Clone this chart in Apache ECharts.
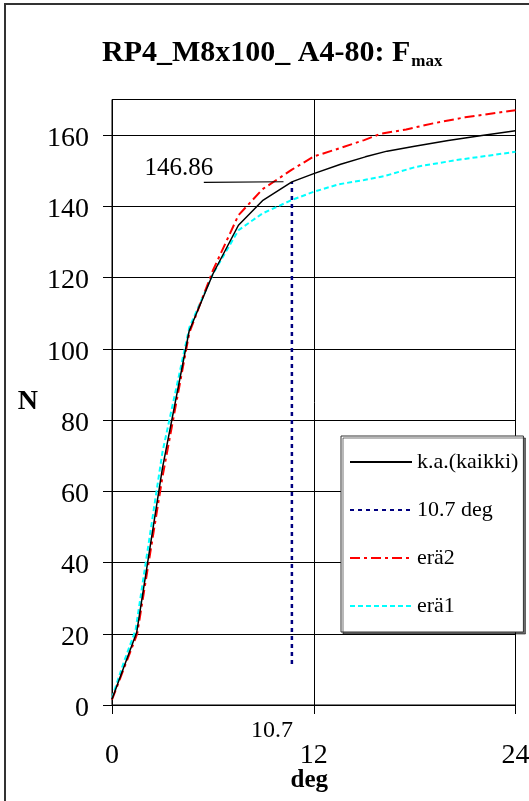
<!DOCTYPE html>
<html>
<head>
<meta charset="utf-8">
<title>RP4_M8x100_ A4-80: Fmax</title>
<script src="https://cdn.jsdelivr.net/npm/echarts@6/dist/echarts.min.js"></script>
<style>
  html, body { margin: 0; padding: 0; background: #fff; }
  #chart { width: 529px; height: 801px; }
</style>
</head>
<body>
<div id="chart"></div>
<script>
// Torque angle (deg) vs. force (N) for RP4_M8x100_ A4-80 screws
const degKa  = [0, 1.47, 3, 4.59, 6, 7.52, 8.95, 10.7, 12, 13.6, 15.07, 16.36, 18, 20, 22, 24];
const nKa    = [1.6, 20.4, 66.5, 105, 121, 134.7, 141.6, 146.86, 149.2, 151.8, 153.9, 155.5, 156.9, 158.5, 159.9, 161.2];

const degEra2 = [0, 1.5, 3, 4.6, 6, 7.52, 8.95, 10.7, 12, 13.2, 15, 16, 17.5, 19.1, 21, 24];
const nEra2   = [1.5, 20, 64, 104.5, 122, 137.5, 144.8, 150.3, 154, 155.8, 158.6, 160.4, 161.6, 163.3, 165, 167];

const degEra1 = [0, 0.7, 1.4, 3, 4.6, 6, 7.52, 8.95, 10.7, 12, 13.5, 15, 16.2, 18.1, 20.5, 24];
const nEra1   = [2, 12, 21, 71, 106, 121, 133.3, 138, 141.8, 144.1, 146.2, 147.4, 148.5, 151.1, 153, 155.3];

// marker at the chosen angle, up to the mean curve's value there
const peakDeg = 10.7;
const peakN = 146.86;
const degMarker = [peakDeg, peakDeg];
const nMarker = [11.5, peakN];

const xTicks = [0, 12, 24];
const yTicks = [0, 20, 40, 60, 80, 100, 120, 140, 160];

const seriesNames = ['k.a.(kaikki)', '10.7 deg', 'erä2', 'erä1'];

const zip = (xs, ys) => xs.map((x, i) => [x, ys[i]]);

const FONT = '"Liberation Serif", "Times New Roman", serif';

const chart = echarts.init(document.getElementById('chart'), null, { renderer: 'canvas' });

chart.setOption({
  animation: false,
  backgroundColor: '#fff',
  title: {
    text: '{a|RP4_M8x100_ A4-80: F}{b|max}',
    left: 97,
    top: 31,
    textStyle: {
      rich: {
        a: { fontFamily: FONT, fontSize: 30, fontWeight: 'bold', color: '#000', lineHeight: 34 },
        b: { fontFamily: FONT, fontSize: 17, fontWeight: 'bold', color: '#000', lineHeight: 34, verticalAlign: 'bottom', padding: [0, 0, 0, 1] }
      }
    }
  },
  graphic: [{
    type: 'rect',
    shape: { x: 5, y: 4, width: 560, height: 840 },
    style: { fill: 'none', stroke: '#333', lineWidth: 2 },
    silent: true
  }],
  legend: {
    orient: 'vertical',
    left: 341,
    top: 436,
    data: seriesNames,
    itemWidth: 62,
    itemHeight: 14,
    itemGap: 26,
    padding: [15, 5, 15, 8],
    backgroundColor: '#fff',
    borderColor: '#333',
    borderWidth: 1,
    shadowColor: 'rgba(0,0,0,0.55)',
    shadowOffsetX: 2,
    shadowOffsetY: 2,
    shadowBlur: 0,
    // line samples only, no point marker in the key
    itemStyle: { color: 'rgba(0,0,0,0)', borderWidth: 0, opacity: 0 },
    textStyle: { fontFamily: FONT, fontSize: 22, color: '#000', lineHeight: 22 }
  },
  grid: {
    left: 112,
    right: 13.5,
    top: 99.5,
    bottom: 96,
    outerBoundsMode: 'none',
    show: true,
    borderColor: '#000',
    borderWidth: 1,
    backgroundColor: 'transparent'
  },
  xAxis: {
    type: 'value',
    min: xTicks[0],
    max: xTicks[xTicks.length - 1],
    interval: xTicks[1] - xTicks[0],
    name: 'deg',
    nameLocation: 'middle',
    nameGap: 63,
    nameMoveOverlap: false,
    nameTextStyle: { fontFamily: FONT, fontSize: 25, fontWeight: 'bold', color: '#000', padding: [0, 9, 0, 0] },
    axisLine: { lineStyle: { color: '#000', width: 1 } },
    axisTick: { show: true, inside: false, length: 9, lineStyle: { color: '#000' } },
    axisLabel: { fontFamily: FONT, fontSize: 28, color: '#000', margin: 37 },
    splitLine: { show: true, lineStyle: { color: '#000', width: 1 } }
  },
  yAxis: {
    type: 'value',
    min: yTicks[0],
    max: 170,
    interval: yTicks[1] - yTicks[0],
    name: 'N',
    nameLocation: 'middle',
    nameRotate: 0,
    nameGap: 74,
    nameMoveOverlap: false,
    nameTextStyle: { fontFamily: FONT, fontSize: 28, fontWeight: 'bold', color: '#000' },
    axisLine: { lineStyle: { color: '#000', width: 1 } },
    axisTick: { show: true, inside: false, length: 9, lineStyle: { color: '#000' } },
    axisLabel: {
      fontFamily: FONT, fontSize: 28, color: '#000', margin: 23,
      showMaxLabel: false,
      formatter: v => (yTicks.indexOf(v) >= 0 ? '{v|' + v + '}' : ''),
      rich: {
        v: { fontFamily: FONT, fontSize: 28, color: '#000', padding: [7, 0, 0, 0] }
      }
    },
    splitLine: { show: true, lineStyle: { color: '#000', width: 1 } }
  },
  series: [
    {
      name: seriesNames[0],
      type: 'line',
      data: zip(degKa, nKa),
      symbol: 'none',
      color: '#000',
      lineStyle: { color: '#000', width: 1.5 },
      z: 5,
      markLine: {
        silent: true,
        symbol: ['none', 'arrow'],
        symbolSize: [0, 9],
        lineStyle: { color: '#000', width: 1.2, type: 'solid' },
        label: { show: false },
        data: [[{ coord: [peakDeg - 5.24, peakN - 0.1] }, { coord: [peakDeg - 0.5, peakN + 0.05] }]]
      },
      markPoint: {
        silent: true,
        symbol: 'circle',
        symbolSize: 0,
        data: [{ coord: [peakDeg, peakN], value: peakN }],
        label: {
          show: true,
          position: 'inside',
          offset: [-113, -13],
          formatter: p => p.value.toFixed(2),
          fontFamily: FONT, fontSize: 25, color: '#000'
        }
      }
    },
    {
      name: seriesNames[1],
      type: 'line',
      data: zip(degMarker, nMarker),
      symbol: 'none',
      color: '#000080',
      clip: false,
      lineStyle: { color: '#000080', width: 2.5, type: [4, 4] },
      z: 4,
      markPoint: {
        silent: true,
        symbol: 'circle',
        symbolSize: 0,
        data: [{ coord: [peakDeg, 0], value: peakDeg }],
        label: {
          show: true,
          position: 'inside',
          offset: [-20, 26],
          formatter: p => String(p.value),
          fontFamily: FONT, fontSize: 24, color: '#000'
        }
      }
    },
    {
      name: seriesNames[2],
      type: 'line',
      data: zip(degEra2, nEra2),
      symbol: 'none',
      color: '#ff0000',
      lineStyle: { color: '#ff0000', width: 2, type: [10, 4, 3, 4] },
      z: 3
    },
    {
      name: seriesNames[3],
      type: 'line',
      data: zip(degEra1, nEra1),
      symbol: 'none',
      color: '#00ffff',
      lineStyle: { color: '#00ffff', width: 2, type: [5, 3] },
      z: 2
    }
  ]
});
</script>
</body>
</html>
